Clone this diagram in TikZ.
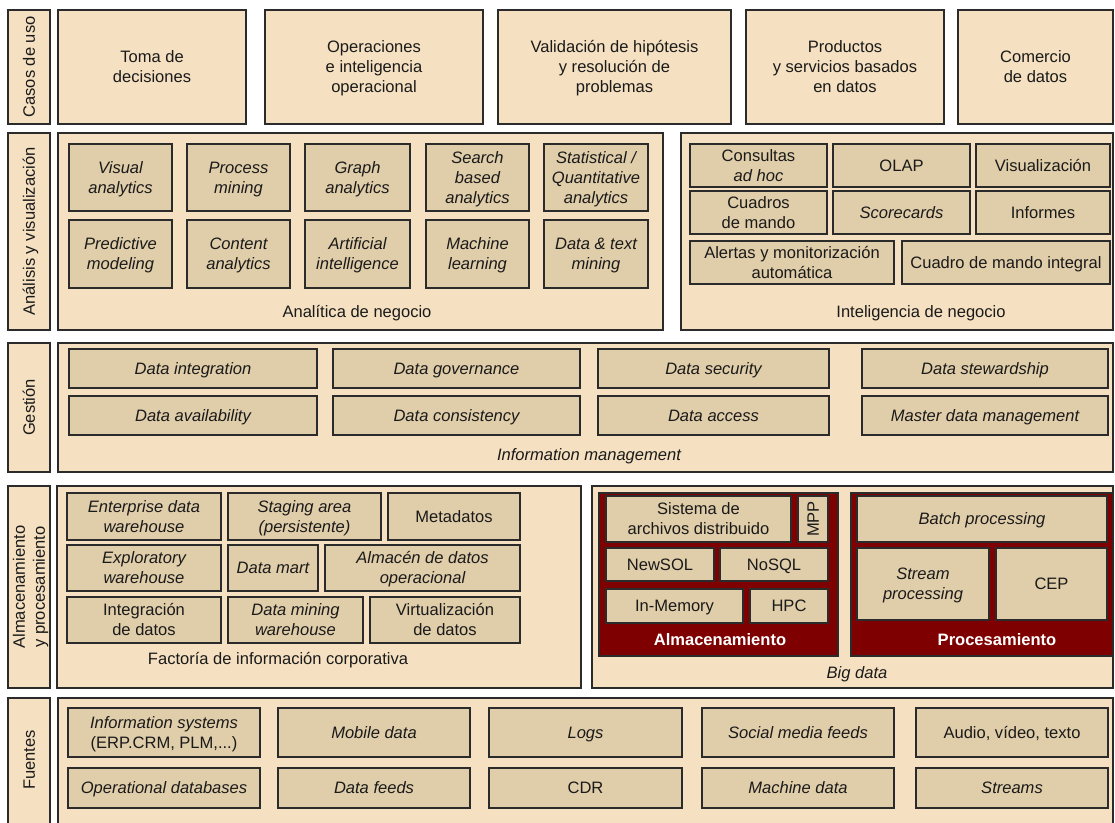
\documentclass[tikz,border=0pt]{standalone}
\usepackage{fontspec}
\setmainfont{Liberation Sans}
\definecolor{pale}{HTML}{F5E1C1}
\definecolor{tanb}{HTML}{E0CDA9}
\definecolor{dred}{HTML}{7F0000}
\definecolor{edgec}{HTML}{2B2B2B}
\definecolor{txt}{HTML}{1A1A1A}
\newcommand\fs{\fontsize{12.4}{15}\selectfont}
\newcommand\bx[7]{%
  \pgfmathsetmacro\bxw{(#4-#2)*0.75}%
  \pgfmathsetmacro\bxh{(#5-#3)*0.75}%
  \node[#6, minimum width=\bxw pt, minimum height=\bxh pt, anchor=center]
    (#1) at ({(#2+#4)/2},{(#3+#5)/2}) {#7};}
\tikzset{
  capc/.style={text height=8.9pt, text depth=0pt},
  l2/.style={text height=23.9pt, text depth=0pt},
  l3/.style={text height=38.9pt, text depth=0pt},
  outerbox/.style={draw=edgec, line width=1.3pt, fill=pale, inner sep=0pt, outer sep=0pt},
  inbox/.style={draw=edgec, line width=1.1pt, fill=tanb, inner sep=0pt, outer sep=0pt, align=center, font=\fs, text=txt, capc},
  itbox/.style={inbox, font=\fs\itshape},
  redbox/.style={draw=edgec, line width=1pt, fill=dred, inner sep=0pt, outer sep=0pt},
  usebox/.style={outerbox, align=center, font=\fs, text=txt, capc},
  vlab/.style={rotate=90, font=\fs, align=center, text=txt, capc},
  plab/.style={font=\fs, text=txt, capc},
  rlab/.style={font=\fs\bfseries, text=white, capc},
}
\begin{document}
\begin{tikzpicture}[x=0.75pt,y=-0.75pt]
\useasboundingbox (0,0) rectangle (1115,823);
\fill[white] (0,0) rectangle (1115,823);

% Row 1: Casos de uso
\bx{lcasos}{8}{10}{50}{124}{outerbox}{}
\node[vlab] (tcasos) at (lcasos.center) {Casos de uso};
\bx{uc1}{58}{10}{246}{124}{usebox,l2}{Toma de\\decisiones}
\bx{uc2}{265}{10}{483}{124}{usebox,l3}{Operaciones\\e inteligencia\\operacional}
\bx{uc3}{498}{10}{731}{124}{usebox,l3}{Validación de hipótesis\\y resolución de\\problemas}
\bx{uc4}{746}{10}{944}{124}{usebox,l3}{Productos\\y servicios basados\\en datos}
\bx{uc5}{958}{10}{1113}{124}{usebox,l2}{Comercio\\de datos}

% Row 2: Análisis y visualización
\bx{lana}{8}{133}{50}{330}{outerbox}{}
\node[vlab] (tana) at (lana.center) {Análisis y visualización};
\bx{pan}{58}{133}{663}{330}{outerbox}{}
\bx{a1}{69}{144}{172}{211}{itbox,l2}{Visual\\analytics}
\bx{a2}{187}{144}{290}{211}{itbox,l2}{Process\\mining}
\bx{a3}{305}{144}{410}{211}{itbox,l2}{Graph\\analytics}
\bx{a4}{426}{144}{529}{211}{itbox,l3}{Search\\based\\analytics}
\bx{a5}{544}{144}{648}{211}{itbox,l3}{Statistical /\\Quantitative\\analytics}
\bx{a6}{69}{220}{172}{288}{itbox,l2}{Predictive\\modeling}
\bx{a7}{187}{220}{290}{288}{itbox,l2}{Content\\analytics}
\bx{a8}{305}{220}{410}{288}{itbox,l2}{Artificial\\intelligence}
\bx{a9}{426}{220}{529}{288}{itbox,l2}{Machine\\learning}
\bx{a10}{544}{220}{648}{288}{itbox,l2}{Data \& text\\mining}
\node[plab] (tan) at (357,312) {Analítica de negocio};

\bx{pbi}{681}{133}{1113}{330}{outerbox}{}
\bx{b1}{690}{144}{827}{187}{inbox,l2}{Consultas\\\textit{ad hoc}}
\bx{b2}{833}{144}{970}{187}{inbox}{OLAP}
\bx{b3}{976}{144}{1110}{187}{inbox}{Visualización}
\bx{b4}{690}{191}{827}{234}{inbox,l2}{Cuadros\\de mando}
\bx{b5}{833}{191}{970}{234}{itbox}{Scorecards}
\bx{b6}{976}{191}{1110}{234}{inbox}{Informes}
\bx{b7}{690}{241}{894}{284}{inbox,l2}{Alertas y monitorización\\automática}
\bx{b8}{902}{241}{1110}{284}{inbox}{Cuadro de mando integral}
\node[plab] (tbi) at (921,312) {Inteligencia de negocio};

% Row 3: Gestión
\bx{lges}{8}{343}{50}{472}{outerbox}{}
\node[vlab] (tges) at (lges.center) {Gestión};
\bx{pges}{58}{343}{1113}{472}{outerbox}{}
\bx{g1}{69}{349}{317}{388}{itbox}{Data integration}
\bx{g2}{333}{349}{580}{388}{itbox}{Data governance}
\bx{g3}{598}{349}{829}{388}{itbox}{Data security}
\bx{g4}{862}{349}{1108}{388}{itbox}{Data stewardship}
\bx{g5}{69}{396}{317}{435}{itbox}{Data availability}
\bx{g6}{333}{396}{580}{435}{itbox}{Data consistency}
\bx{g7}{598}{396}{829}{435}{itbox}{Data access}
\bx{g8}{862}{396}{1108}{435}{itbox}{Master data management}
\node[plab, font=\fs\itshape] (tges2) at (589,455) {Information management};

% Row 4: Almacenamiento y procesamiento
\bx{lalm}{8}{486}{50}{688}{outerbox}{}
\node[vlab, l2] (talm) at (lalm.center) {Almacenamiento\\y procesamiento};
\bx{pfic}{57}{486}{581}{688}{outerbox}{}
\bx{f1}{67}{493}{221}{540}{itbox,l2}{Enterprise data\\warehouse}
\bx{f2}{228}{493}{381}{540}{itbox,l2}{Staging area\\(persistente)}
\bx{f3}{388}{493}{520}{540}{inbox}{Metadatos}
\bx{f4}{67}{545}{221}{591}{itbox,l2}{Exploratory\\warehouse}
\bx{f5}{228}{545}{318}{591}{itbox}{Data mart}
\bx{f6}{325}{545}{520}{591}{itbox,l2}{Almacén de datos\\operacional}
\bx{f7}{67}{597}{221}{643}{inbox,l2}{Integración\\de datos}
\bx{f8}{228}{597}{363}{643}{itbox,l2}{Data mining\\warehouse}
\bx{f9}{370}{597}{520}{643}{inbox,l2}{Virtualización\\de datos}
\node[plab] (tfic) at (278,659) {Factoría de información corporativa};

\bx{pbig}{592}{486}{1113}{688}{outerbox}{}
\bx{ralm}{599}{493}{838}{656}{redbox}{}
\bx{s1}{606}{496}{791}{542}{inbox,l2}{Sistema de\\archivos distribuido}
\bx{s2}{798}{496}{828}{542}{inbox}{}
\node[rotate=90, font=\fs, text=txt, capc] (tmpp) at (s2.center) {MPP};
\bx{s3}{606}{548}{714}{581}{inbox}{NewSOL}
\bx{s4}{720}{548}{828}{581}{inbox}{NoSQL}
\bx{s5}{606}{589}{743}{623}{inbox}{In-Memory}
\bx{s6}{750}{589}{828}{623}{inbox}{HPC}
\node[rlab] (tralm) at (720,640) {Almacenamiento};

\bx{rpro}{851}{493}{1113}{656}{redbox}{}
\bx{p1}{857}{496}{1107}{542}{itbox}{Batch processing}
\bx{p2}{857}{548}{989}{620}{itbox,l2}{Stream\\processing}
\bx{p3}{996}{548}{1107}{620}{inbox}{CEP}
\node[rlab] (trpro) at (997,640) {Procesamiento};
\node[plab, font=\fs\itshape] (tbig) at (857,673) {Big data};

% Row 5: Fuentes
\bx{lfue}{8}{698}{50}{830}{outerbox}{}
\node[vlab] (tfue) at (29,760) {Fuentes};
\bx{pfue}{58}{698}{1113}{830}{outerbox}{}
\bx{e1}{68}{708}{260}{757}{inbox,l2}{\textit{Information systems}\\(ERP.CRM, PLM,...)}
\bx{e2}{278}{708}{470}{757}{itbox}{Mobile data}
\bx{e3}{489}{708}{682}{757}{itbox}{Logs}
\bx{e4}{702}{708}{894}{757}{itbox}{Social media feeds}
\bx{e5}{916}{708}{1108}{757}{inbox}{Audio, vídeo, texto}
\bx{e6}{68}{768}{260}{808}{itbox}{Operational databases}
\bx{e7}{278}{768}{470}{808}{itbox}{Data feeds}
\bx{e8}{489}{768}{682}{808}{inbox}{CDR}
\bx{e9}{702}{768}{894}{808}{itbox}{Machine data}
\bx{e10}{916}{768}{1108}{808}{itbox}{Streams}
\end{tikzpicture}
\end{document}
